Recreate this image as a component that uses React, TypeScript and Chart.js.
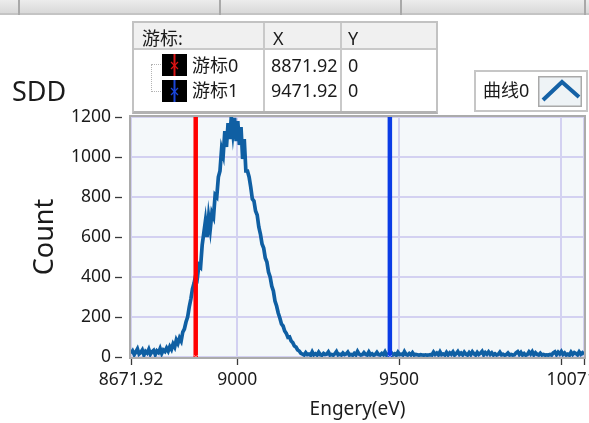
import React, { useEffect, useRef } from 'react';
import { Chart, registerables } from 'chart.js';

Chart.register(...registerables);

// ---------------- data ----------------
const energyStart = 8671.92;
const energyStep = 5;
const energyEnd = 10071.92;

const countValues: number[] = [
  18, 30, 12, 25, 40, 15, 22, 35, 10, 28, 20, 38, 14, 26, 33, 12, 30, 22, 42, 18, 35,
  28, 45, 30, 52, 38, 65, 50, 85, 68, 95, 80, 125, 140, 175, 200, 250, 290, 340, 370,
  410, 395, 460, 450, 560, 620, 680, 600, 700, 640, 720, 700, 810, 800, 900, 930, 1040, 1010, 1130, 1050,
  1170, 1090, 1200, 1120, 1195, 1080, 1180, 1060, 1150, 990, 1090, 930, 930, 900, 850, 790, 780, 730, 710, 650,
  615, 565, 545, 495, 475, 425, 400, 355, 330, 280, 255, 220, 195, 165, 155, 130, 118, 98, 100, 80,
  72, 55, 50, 35, 30, 18,
  14, 10, 22, 12, 15, 9, 26, 11, 16, 10,
  24, 12, 9, 18, 12, 14, 25, 10, 13, 9,
  16, 27, 11, 14, 10, 20, 12, 15, 24, 10,
  13, 9, 18, 11, 28, 14, 10, 12, 22, 13,
  10, 25, 11, 16, 9, 13, 23, 12, 10, 18,
  12, 26, 10, 14, 9, 21, 11, 16, 9, 24,
  12, 14, 10, 27, 13, 10, 18, 11, 22, 10,
  13, 11, 9, 12, 10, 9, 11, 9, 10, 12,
  10, 24, 13, 20, 11, 26, 12, 15, 10, 23,
  11, 21, 14, 25, 10, 17, 27, 13, 20, 11,
  24, 14, 10, 22, 12, 26, 16, 10, 23, 13,
  19, 28, 11, 22, 14, 25, 13, 21, 10, 16,
  10, 13, 24, 11, 14, 9, 12, 20, 10, 13,
  10, 11, 21, 27, 13, 23, 10, 17, 9, 12,
  25, 15, 27, 11, 21, 13, 10, 19, 10, 13,
  9, 11, 10, 13, 10, 21, 26, 12, 24, 15,
  27, 13, 20, 10, 14, 9, 24, 13, 22, 17,
  11, 25, 14, 21, 12,
];

const xTickValues = [8671.92, 9000, 9500, 10000, 10071.92];
const xTickLabels = ['8671.92', '9000', '9500', '', '10071.92'];
const yTickValues = [0, 200, 400, 600, 800, 1000, 1200];

const cursorNames = ['游标0', '游标1'];
const cursorXs = [8871.92, 9471.92];
const cursorXLabels = ['8871.92', '9471.92'];
const cursorYs = [0, 0];

const seriesName = '曲线0';
const chartTitle = 'SDD';
const xTitle = 'Engery(eV)';
const yTitle = 'Count';
const tableHeaders = ['游标:', 'X', 'Y'];

// ---------------- styles ----------------
const FONT = '"Noto Sans", "Noto Sans CJK SC", sans-serif';
const TEXT = '#1b1b1b';
const cursorColors = ['#ff0000', '#0a3ce6'];
const cursorIconColors = ['#d81414', '#1a46d8'];

const framePlugin = {
  id: 'lvFrame',
  beforeDraw(chart: any) {
    const { ctx, chartArea: a } = chart;
    ctx.save();
    ctx.fillStyle = '#f4f8fa';
    ctx.fillRect(a.left, a.top, a.right - a.left, a.bottom - a.top);
    ctx.restore();
  },
  afterDraw(chart: any) {
    const { ctx, chartArea: a, scales } = chart;
    ctx.save();
    ctx.strokeStyle = '#ababab';
    ctx.lineWidth = 2;
    ctx.strokeRect(a.left - 1, a.top - 1, a.right - a.left + 2, a.bottom - a.top + 2);
    ctx.strokeStyle = '#3a3a3a';
    ctx.lineWidth = 1.3;
    scales.y.ticks.forEach((t: any) => {
      const y = Math.round(scales.y.getPixelForValue(t.value)) + 0.5;
      ctx.beginPath();
      ctx.moveTo(a.left - 16, y);
      ctx.lineTo(a.left - 9, y);
      ctx.stroke();
    });
    scales.x.ticks.forEach((t: any) => {
      const x = Math.round(scales.x.getPixelForValue(t.value)) + 0.5;
      ctx.beginPath();
      ctx.moveTo(x, a.bottom + 2);
      ctx.lineTo(x, a.bottom + 8);
      ctx.stroke();
    });
    ctx.restore();
  },
};

export default function App() {
  const ref = useRef<HTMLCanvasElement>(null);

  useEffect(() => {
    const points = countValues.map((v, i) => ({ x: energyStart + i * energyStep, y: v }));
    const yLo = yTickValues[0];
    const yHi = yTickValues[yTickValues.length - 1];
    const cursorSets = cursorXs.map((cx, k) => ({
      label: cursorNames[k],
      data: [
        { x: cx, y: yLo },
        { x: cx, y: yHi },
      ],
      borderColor: cursorColors[k],
      borderWidth: 4.5,
      pointRadius: [3, 0],
      pointStyle: 'crossRot',
      pointBorderColor: k === 0 ? '#ff9c9c' : '#8ea8ff',
      pointBorderWidth: 1,
      pointBackgroundColor: 'rgba(0,0,0,0)',
      tension: 0,
    }));
    const chart = new Chart(ref.current as HTMLCanvasElement, {
      type: 'line',
      data: {
        datasets: [
          ...cursorSets,
          {
            label: seriesName,
            data: points,
            borderColor: '#0f5fa3',
            borderWidth: 3.7,
            pointRadius: 0,
            tension: 0,
            borderJoinStyle: 'miter',
          },
        ] as any,
      },
      options: {
        animation: false,
        responsive: false,
        events: [],
        layout: { padding: { left: 0, top: 117, right: 5, bottom: 0 }, autoPadding: false },
        plugins: {
          legend: { display: false },
          tooltip: { enabled: false },
          title: { display: false },
        },
        scales: {
          x: {
            type: 'linear',
            min: energyStart,
            max: energyEnd,
            afterBuildTicks: (s: any) => {
              s.ticks = xTickValues.map((v) => ({ value: v }));
            },
            afterFit: (s: any) => {
              s.height = 66;
              s.paddingLeft = 0;
              s.paddingRight = 0;
            },
            ticks: {
              autoSkip: false,
              maxRotation: 0,
              minRotation: 0,
              padding: 13,
              color: TEXT,
              font: { family: FONT, size: 17.5 },
              callback: (_v: any, i: number) => xTickLabels[i],
            },
            grid: { color: '#d3d1f1', lineWidth: 2, drawTicks: false },
            border: { display: false },
            title: {
              display: true,
              text: xTitle,
              color: TEXT,
              font: { family: FONT, size: 19 },
              padding: { top: 0, bottom: 2 },
            },
          },
          y: {
            type: 'linear',
            min: yLo,
            max: yHi,
            afterBuildTicks: (s: any) => {
              s.ticks = yTickValues.map((v) => ({ value: v }));
            },
            afterFit: (s: any) => {
              s.width = 131;
            },
            ticks: {
              padding: 20,
              color: TEXT,
              font: { family: FONT, size: 17.5 },
              callback: (v: any) => String(v),
            },
            grid: { color: '#d3d1f1', lineWidth: 2, drawTicks: false },
            border: { display: false },
            title: {
              display: true,
              text: yTitle,
              color: TEXT,
              font: { family: FONT, size: 27 },
              padding: { top: 29, bottom: 0 },
            },
          },
        },
      } as any,
      plugins: [framePlugin],
    });
    return () => chart.destroy();
  }, []);

  const txt = (left: number, cy: number, s: string, size = 18, h = 24): any => (
    <div
      style={{
        position: 'absolute',
        left,
        top: cy - h / 2,
        height: h,
        lineHeight: `${h}px`,
        fontSize: size,
        color: TEXT,
        whiteSpace: 'nowrap',
      }}
    >
      {s}
    </div>
  );

  const rowCy = [65, 90];
  const iconTop = [54, 80];

  return (
    <div
      style={{
        position: 'fixed',
        left: 0,
        top: 0,
        width: 589,
        height: 423,
        overflow: 'hidden',
        background: '#ffffff',
        fontFamily: FONT,
      }}
    >
      <canvas
        ref={ref}
        width={589}
        height={423}
        style={{ position: 'absolute', left: 0, top: 0, width: 589, height: 423 }}
      />

      {/* top strip */}
      <div
        style={{
          position: 'absolute',
          left: 0,
          top: 0,
          width: 589,
          height: 13,
          background: 'linear-gradient(#ececec, #d9d9d9)',
          borderBottom: '2px solid #c4c4c4',
        }}
      />
      {[18, 219, 400, 584].map((x) => (
        <div
          key={x}
          style={{ position: 'absolute', left: x, top: 0, width: 2, height: 15, background: '#a9a9a9' }}
        />
      ))}

      {/* chart title */}
      {txt(12, 91, chartTitle, 27, 32)}

      {/* cursor table */}
      <div
        style={{
          position: 'absolute',
          left: 132,
          top: 21,
          width: 302,
          height: 88,
          border: '2px solid #c2c2c2',
          borderBottom: '3px solid #b2b2b2',
          background: '#ffffff',
        }}
      >
        <div style={{ position: 'absolute', left: 0, top: 0, width: 302, height: 25, background: '#f0f0f0' }} />
        <div style={{ position: 'absolute', left: 0, top: 25, width: 302, height: 2, background: '#c9c9c9' }} />
        <div style={{ position: 'absolute', left: 129, top: 0, width: 2, height: 88, background: '#c9c9c9' }} />
        <div style={{ position: 'absolute', left: 206, top: 0, width: 2, height: 88, background: '#c9c9c9' }} />
      </div>
      {txt(142, 38, tableHeaders[0], 18)}
      {txt(273, 38, tableHeaders[1], 18)}
      {txt(348, 38, tableHeaders[2], 18)}
      {/* tree connector */}
      <div
        style={{
          position: 'absolute',
          left: 151,
          top: 64,
          width: 11,
          height: 26,
          borderLeft: '1px dotted #b4b4b4',
          borderTop: '1px dotted #b4b4b4',
          borderBottom: '1px dotted #b4b4b4',
        }}
      />
      {cursorNames.map((name, k) => (
        <React.Fragment key={name}>
          <svg
            width={25}
            height={22}
            style={{ position: 'absolute', left: 162, top: iconTop[k] }}
          >
            <rect x={0} y={0} width={25} height={22} fill="#000" />
            <line x1={12.5} y1={0} x2={12.5} y2={22} stroke={cursorIconColors[k]} strokeWidth={2} />
            <line x1={9} y1={8} x2={16} y2={15} stroke={cursorIconColors[k]} strokeWidth={1.3} />
            <line x1={16} y1={8} x2={9} y2={15} stroke={cursorIconColors[k]} strokeWidth={1.3} />
          </svg>
          {txt(192, rowCy[k], name, 18)}
          {txt(271, rowCy[k], cursorXLabels[k], 18)}
          {txt(348, rowCy[k], String(cursorYs[k]), 18)}
        </React.Fragment>
      ))}

      {/* legend */}
      <div
        style={{
          position: 'absolute',
          left: 474,
          top: 70,
          width: 110,
          height: 38,
          border: '2px solid #c6c6c6',
          background: '#ffffff',
        }}
      />
      {txt(483, 90, seriesName, 18)}
      <svg width={44} height={31} style={{ position: 'absolute', left: 538, top: 76 }}>
        <rect x={0.75} y={0.75} width={42.5} height={29.5} fill="#eef3f6" stroke="#a9a9a9" strokeWidth={1.5} />
        <polyline points="5,24 24,6 41,21" fill="none" stroke="#1461a6" strokeWidth={4} />
      </svg>
    </div>
  );
}
